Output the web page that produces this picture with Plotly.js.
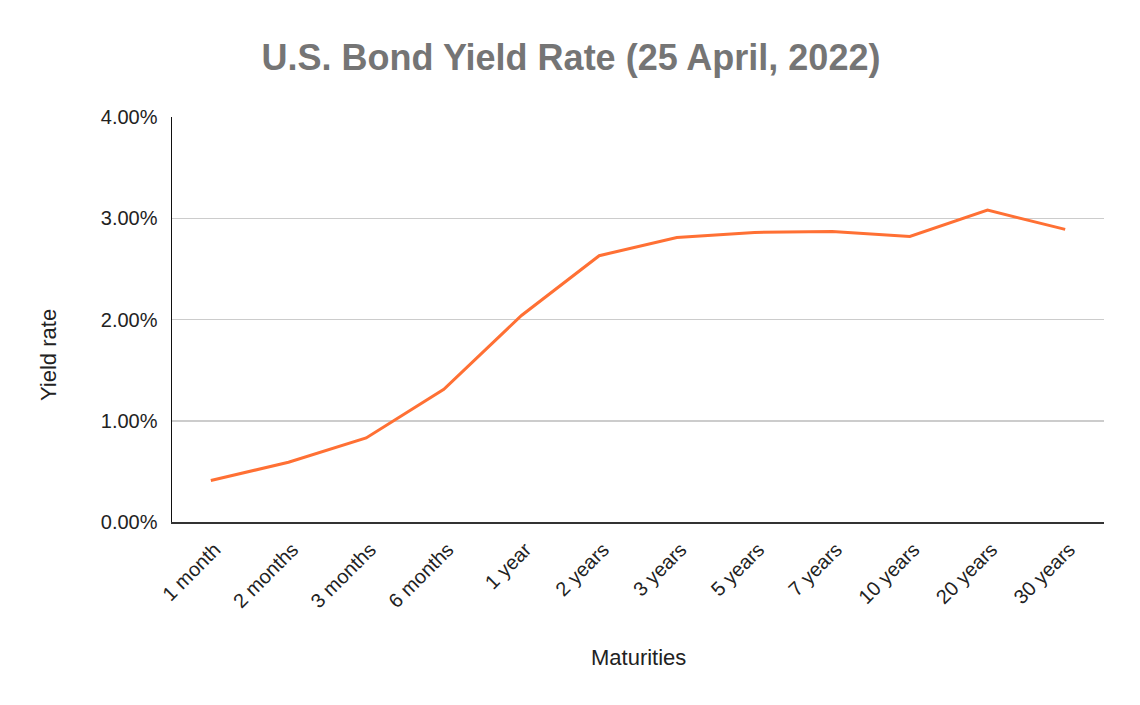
<!DOCTYPE html>
<html>
<head>
<meta charset="utf-8">
<script src="https://cdn.plot.ly/plotly-3.0.1.min.js"></script>
<style>html,body{margin:0;padding:0;background:#fff;}#chart{width:1140px;height:705px;}</style>
</head>
<body>
<div id="chart"></div>
<script>
const maturities = ["1 month","2 months","3 months","6 months","1 year","2 years","3 years","5 years","7 years","10 years","20 years","30 years"];
const yieldRates = [0.41, 0.59, 0.83, 1.31, 2.04, 2.63, 2.81, 2.86, 2.87, 2.82, 3.08, 2.89];
const yTickVals = [0, 1, 2, 3, 4];
const yTickText = ["0.00%","1.00%","2.00%","3.00%","4.00%"];

const font = "'Liberation Sans', Arial, sans-serif";

Plotly.newPlot('chart', [{
  x: maturities,
  y: yieldRates,
  type: 'scatter',
  mode: 'lines',
  line: {color: '#ff7034', width: 3},
  hoverinfo: 'x+y'
}], {
  width: 1140, height: 705,
  margin: {l: 172, r: 36, t: 117, b: 183},
  paper_bgcolor: '#fff', plot_bgcolor: '#fff',
  showlegend: false,
  font: {family: font, color: '#222'},
  title: {text: '<b>U.S. Bond Yield Rate (25 April, 2022)</b>', font: {family: font, size: 36, color: '#757575'}, xref: 'container', x: 571/1140, xanchor: 'center', yref: 'container', y: 1 - 57/705, yanchor: 'middle'},
  xaxis: {
    type: 'category',
    range: [-0.5, maturities.length - 0.5],
    tickangle: -45,
    tickfont: {size: 20, color: '#222'},
    showgrid: false,
    showline: true, linecolor: '#333', linewidth: 2,
    ticks: '',
    ticklabelshift: 4,
    ticklabelstandoff: 6,
    automargin: false,
    fixedrange: true
  },
  yaxis: {
    range: [0, 4],
    tickvals: yTickVals,
    ticktext: yTickText,
    tickfont: {size: 20, color: '#222'},
    showgrid: true, gridcolor: '#cccccc', gridwidth: 1.5,
    zeroline: false,
    showline: true, linecolor: '#111', linewidth: 1.5,
    ticks: '',
    ticklabelstandoff: 9,
    automargin: false,
    fixedrange: true
  },
  annotations: [
    {text: 'Maturities', xref: 'paper', yref: 'paper', x: 0.5, y: -(657 - 522) / (522 - 117), xanchor: 'center', yanchor: 'middle', showarrow: false, font: {family: font, size: 22, color: '#222'}},
    {text: 'Yield rate', xref: 'paper', yref: 'paper', x: (48 - 172) / (1104 - 172), y: (522 - 355) / (522 - 117), xanchor: 'center', yanchor: 'middle', textangle: -90, showarrow: false, font: {family: font, size: 22, color: '#222'}}
  ]
}, {displayModeBar: false, staticPlot: true});
</script>
</body>
</html>
